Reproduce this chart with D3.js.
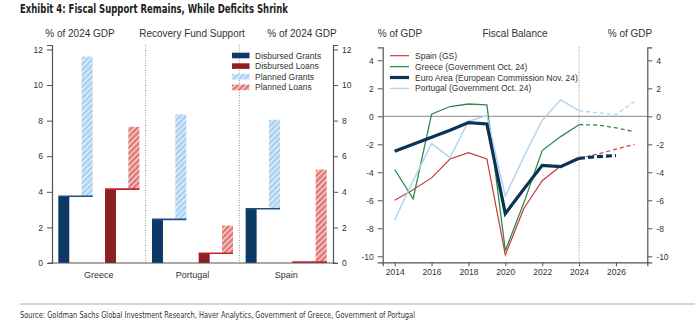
<!DOCTYPE html>
<html>
<head>
<meta charset="utf-8">
<script src="https://cdn.jsdelivr.net/npm/d3@7/dist/d3.min.js"></script>
<style>
  body { margin: 0; background: #fff; }
  svg { font-family: "Liberation Sans", Arial, sans-serif; }
  .narrow { font-family: "Liberation Sans Narrow", "DejaVu Sans Condensed", sans-serif; }
  .tick text { fill: #333; }
</style>
</head>
<body>
<svg id="chart" width="700" height="324"></svg>
<script>
// ---- data: recovery fund support (% of 2024 GDP)
const countries = ["Greece", "Portugal", "Spain"];
const disbursedGrants = [3.75, 2.45, 3.05];
const plannedGrants = [11.6, 8.35, 8.05];
const disbursedLoans = [4.15, 0.55, 0.05];
const plannedLoans = [7.65, 2.1, 5.25];
const barTicks = [0, 2, 4, 6, 8, 10, 12];

// ---- data: fiscal balance (% of GDP)
const years = [2014, 2015, 2016, 2017, 2018, 2019, 2020, 2021, 2022, 2023, 2024, 2025, 2026, 2027];
const spainGS = [-6.0, -5.25, -4.4, -3.05, -2.6, -3.05, -9.9, -6.6, -4.6, -3.55, -3.0, -2.7, -2.35, -2.0];
const greeceGov = [-3.8, -5.9, 0.15, 0.7, 0.88, 0.82, -9.6, -6.2, -2.45, -1.45, -0.6, -0.62, -0.82, -1.1];
const euroAreaEC = [-2.5, -2.0, -1.5, -1.0, -0.45, -0.55, -6.95, -5.2, -3.5, -3.6, -3.0, -2.88, -2.8];
const portugalGov = [-7.4, -4.6, -1.95, -2.95, -0.35, 0.05, -5.7, -2.9, -0.28, 1.18, 0.4, 0.26, 0.12, 1.05];
const lineTicksY = [-10, -8, -6, -4, -2, 0, 2, 4];
const lineTicksX = [2014, 2016, 2018, 2020, 2022, 2024, 2026];
const projectionStart = 2024;

const svg = d3.select("#chart");
const axisColor = "#555";
const fmt = d => String(d);

// hatch patterns for planned bars
const defs = svg.append("defs");
function hatch(id, color) {
  const p = defs.append("pattern")
    .attr("id", id)
    .attr("patternUnits", "userSpaceOnUse")
    .attr("width", 4).attr("height", 4)
    .attr("patternTransform", "rotate(45)");
  p.append("rect").attr("width", 4).attr("height", 4).attr("fill", color);
  p.append("rect").attr("x", 0).attr("width", 1.2).attr("height", 4).attr("fill", "#fff").attr("opacity", 0.8);
}
hatch("hatchBlue", "#a9d0f0");
hatch("hatchRed", "#e27878");

// ---- header (narrow bold face, squeezed to the reference width)
svg.append("text")
  .attr("class", "narrow")
  .attr("x", 20).attr("y", 13)
  .attr("font-size", 12).attr("font-weight", "bold").attr("fill", "#222")
  .attr("textLength", 268).attr("lengthAdjust", "spacingAndGlyphs")
  .text("Exhibit 4: Fiscal Support Remains, While Deficits Shrink");

// ================= left panel: bars =================
const L = { left: 52, right: 333, top: 45, bottom: 263 };
const xC = d3.scaleBand().domain(countries).range([L.left, L.right]);
const xInner = d3.scaleBand().domain(["dg", "pg", "dl", "pl"])
  .range([0, xC.bandwidth()]).paddingInner(0.53).paddingOuter(0.27);
const yB = d3.scaleLinear().domain([0, 12.25]).range([L.bottom, L.top]);

const left = svg.append("g");

[["% of 2024 GDP", 80], ["Recovery Fund Support", 192], ["% of 2024 GDP", 302]].forEach(([t, x]) => {
  left.append("text").attr("x", x).attr("y", 37).attr("text-anchor", "middle")
    .attr("font-size", 10).attr("fill", "#333").text(t);
});

// dotted dividers between countries
left.selectAll(".divider").data(countries.slice(1)).enter().append("line")
  .attr("x1", d => xC(d)).attr("x2", d => xC(d))
  .attr("y1", L.top).attr("y2", L.bottom)
  .attr("stroke", "#777").attr("stroke-width", 0.8).attr("stroke-dasharray", "1,1.5");

const bw = xInner.bandwidth();
const barRows = countries.map((c, i) => ({
  c, dg: disbursedGrants[i], pg: plannedGrants[i], dl: disbursedLoans[i], pl: plannedLoans[i]
}));

const groups = left.selectAll(".country").data(barRows).enter().append("g")
  .attr("transform", d => `translate(${xC(d.c)},0)`);

// planned (hatched) on top of disbursed
groups.append("rect")
  .attr("x", xInner("pg")).attr("width", bw)
  .attr("y", d => yB(d.pg)).attr("height", d => yB(d.dg) - yB(d.pg))
  .attr("fill", "url(#hatchBlue)");
groups.append("rect")
  .attr("x", xInner("pl")).attr("width", bw)
  .attr("y", d => yB(d.pl)).attr("height", d => yB(d.dl) - yB(d.pl))
  .attr("fill", "url(#hatchRed)");

// disbursed bars
groups.append("rect")
  .attr("x", xInner("dg")).attr("width", bw)
  .attr("y", d => yB(d.dg)).attr("height", d => yB(0) - yB(d.dg))
  .attr("fill", "#0c3a64");
groups.append("rect")
  .attr("x", xInner("dl")).attr("width", bw)
  .attr("y", d => yB(d.dl)).attr("height", d => yB(0) - yB(d.dl))
  .attr("fill", "#8e1f22");

// level lines from disbursed bar across to planned bar
groups.append("line")
  .attr("x1", xInner("dg")).attr("x2", xInner("pg") + bw)
  .attr("y1", d => yB(d.dg)).attr("y2", d => yB(d.dg))
  .attr("stroke", "#1d4f80").attr("stroke-width", 1.6);
groups.append("line")
  .attr("x1", xInner("dl")).attr("x2", xInner("pl") + bw)
  .attr("y1", d => yB(d.dl)).attr("y2", d => yB(d.dl))
  .attr("stroke", "#c8202a").attr("stroke-width", 1.6);

// axes
const yLeftAx = left.append("g").attr("transform", `translate(${L.left},0)`)
  .call(d3.axisLeft(yB).tickValues(barTicks).tickFormat(fmt).tickSize(5).tickPadding(4));
const yRightAx = left.append("g").attr("transform", `translate(${L.right},0)`)
  .call(d3.axisRight(yB).tickValues(barTicks).tickFormat(fmt).tickSize(5).tickPadding(4));
const xBAx = left.append("g").attr("transform", `translate(0,${L.bottom})`)
  .call(d3.axisBottom(xC).tickSize(0).tickPadding(9));
[yLeftAx, yRightAx, xBAx].forEach(a => {
  a.selectAll("path,line").attr("stroke", axisColor);
  a.selectAll("text").attr("font-size", 8.5);
  a.select(".domain").attr("stroke-width", 1.2);
});
xBAx.selectAll("text").attr("font-size", 9);
xBAx.select(".domain").attr("d", `M${L.left - 4},0H${L.right + 4}`);

// legend
const barLegend = [
  { label: "Disbursed Grants", fill: "#0c3a64" },
  { label: "Disbursed Loans", fill: "#8e1f22" },
  { label: "Planned Grants", fill: "url(#hatchBlue)" },
  { label: "Planned Loans", fill: "url(#hatchRed)" }
];
const bl = left.selectAll(".bleg").data(barLegend).enter().append("g")
  .attr("transform", (d, i) => `translate(232,${55.5 + i * 10.6})`);
bl.append("rect").attr("x", 0).attr("y", -2.8).attr("width", 17.5).attr("height", 5.6)
  .attr("fill", d => d.fill);
bl.append("text").attr("x", 23).attr("y", 3).attr("font-size", 8.5).attr("fill", "#333")
  .text(d => d.label);

// ================= right panel: lines =================
const R = { left: 382.7, right: 647.3, top: 47.3, bottom: 262.3 };
const xY = d3.scaleLinear().domain([2013.35, 2027.7]).range([R.left, R.right]);
const yL = d3.scaleLinear().domain([-10.43, 4.93]).range([R.bottom, R.top]);
const right = svg.append("g");

[["% of GDP", 400], ["Fiscal Balance", 515], ["% of GDP", 630]].forEach(([t, x]) => {
  right.append("text").attr("x", x).attr("y", 37).attr("text-anchor", "middle")
    .attr("font-size", 10).attr("fill", "#333").text(t);
});

// zero line and projection marker
right.append("line")
  .attr("x1", R.left).attr("x2", R.right).attr("y1", yL(0)).attr("y2", yL(0))
  .attr("stroke", "#888").attr("stroke-width", 1);
right.append("line")
  .attr("x1", xY(projectionStart)).attr("x2", xY(projectionStart))
  .attr("y1", R.top).attr("y2", R.bottom)
  .attr("stroke", "#777").attr("stroke-width", 0.8).attr("stroke-dasharray", "1,1.5");

const seriesList = [
  { label: "Spain (GS)", values: spainGS, color: "#c9393c", width: 1.2 },
  { label: "Greece (Government Oct. 24)", values: greeceGov, color: "#2f8a4e", width: 1.3 },
  { label: "Portugal (Government Oct. 24)", values: portugalGov, color: "#b0d4ee", width: 1.4 },
  { label: "Euro Area (European Commission Nov. 24)", values: euroAreaEC, color: "#0c3356", width: 3.2 }
];

const line = d3.line().x(d => xY(d.year)).y(d => yL(d.v));
seriesList.forEach(s => {
  const pts = s.values.map((v, i) => ({ year: years[i], v }));
  const hist = pts.filter(p => p.year <= projectionStart);
  const proj = pts.filter(p => p.year >= projectionStart);
  right.append("path").attr("d", line(hist)).attr("fill", "none")
    .attr("stroke", s.color).attr("stroke-width", s.width).attr("stroke-linejoin", "miter");
  right.append("path").attr("d", line(proj)).attr("fill", "none")
    .attr("stroke", s.color).attr("stroke-width", s.width)
    .attr("stroke-dasharray", s.width > 2 ? "6,3" : "4,3");
});

// axes
const yLAx = right.append("g").attr("transform", `translate(${R.left},0)`)
  .call(d3.axisLeft(yL).tickValues(lineTicksY).tickFormat(fmt).tickSize(5).tickPadding(4));
const yRAx = right.append("g").attr("transform", `translate(${R.right},0)`)
  .call(d3.axisRight(yL).tickValues(lineTicksY).tickFormat(fmt).tickSize(5).tickPadding(4));
const xLAx = right.append("g").attr("transform", `translate(0,${R.bottom})`)
  .call(d3.axisBottom(xY).tickValues(lineTicksX).tickFormat(fmt).tickSize(4).tickPadding(3));
[yLAx, yRAx, xLAx].forEach(a => {
  a.selectAll("path,line").attr("stroke", axisColor);
  a.selectAll("text").attr("font-size", 8.5);
  a.select(".domain").attr("stroke-width", 1.2);
});

// legend (order as in the picture)
const lineLegend = [seriesList[0], seriesList[1], seriesList[3], seriesList[2]];
const ll = right.selectAll(".lleg").data(lineLegend).enter().append("g")
  .attr("transform", (d, i) => `translate(390,${55.7 + i * 10.9})`);
ll.append("line").attr("x1", 0).attr("x2", 19).attr("y1", 0).attr("y2", 0)
  .attr("stroke", d => d.color).attr("stroke-width", d => d.width);
ll.append("text").attr("x", 25).attr("y", 3).attr("font-size", 8.5).attr("fill", "#333")
  .text(d => d.label);

// ---- footer
svg.append("line").attr("x1", 20).attr("x2", 695).attr("y1", 304).attr("y2", 304)
  .attr("stroke", "#999").attr("stroke-width", 0.8);
svg.append("text")
  .attr("class", "narrow")
  .attr("x", 20).attr("y", 318)
  .attr("font-size", 8.5).attr("fill", "#333")
  .attr("textLength", 395).attr("lengthAdjust", "spacingAndGlyphs")
  .text("Source: Goldman Sachs Global Investment Research, Haver Analytics, Government of Greece, Government of Portugal");
</script>
</body>
</html>
